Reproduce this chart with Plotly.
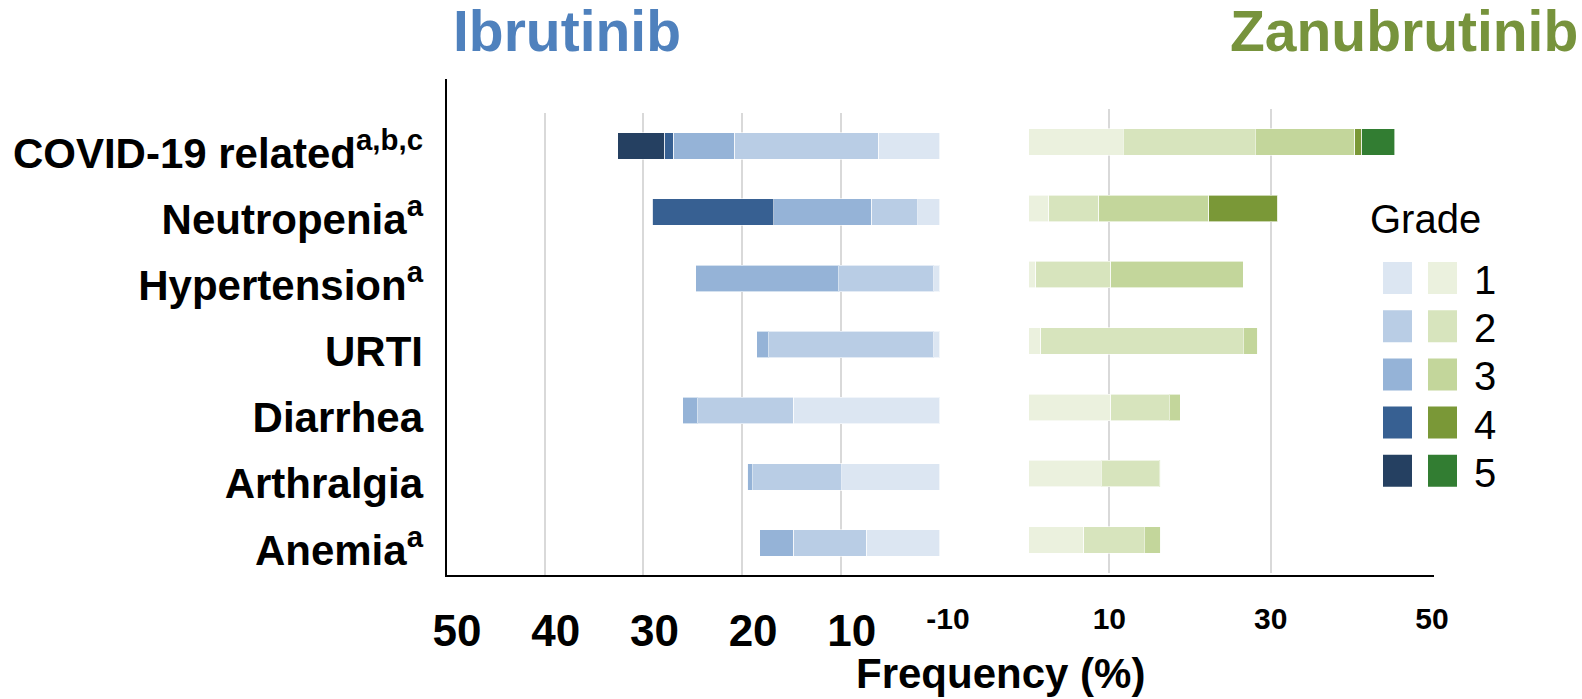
import plotly.graph_objects as go

# Adverse events (rows, top to bottom)
categories = [
    "COVID-19 related<sup>a,b,c</sup>",
    "Neutropenia<sup>a</sup>",
    "Hypertension<sup>a</sup>",
    "URTI",
    "Diarrhea",
    "Arthralgia",
    "Anemia<sup>a</sup>",
]
grades = ["1", "2", "3", "4", "5"]

# Ibrutinib frequency (%) by grade
ibru_g1 = [6.2, 2.2, 0.6, 0.6, 14.8, 9.9, 7.4]
ibru_g2 = [14.6, 4.7, 9.6, 16.7, 9.7, 9.0, 7.4]
ibru_g3 = [6.2, 9.9, 14.5, 1.2, 1.5, 0.6, 3.4]
ibru_g4 = [0.9, 12.3, 0, 0, 0, 0, 0]
ibru_g5 = [4.7, 0, 0, 0, 0, 0, 0]

# Zanubrutinib frequency (%) by grade
zanu_g1 = [11.7, 2.5, 0.9, 1.5, 10.2, 9.0, 6.8]
zanu_g2 = [16.4, 6.2, 9.3, 25.1, 7.2, 7.2, 7.5]
zanu_g3 = [12.3, 13.6, 16.4, 1.8, 1.4, 0.2, 2.1]
zanu_g4 = [0.9, 8.6, 0, 0, 0, 0, 0]
zanu_g5 = [4.1, 0, 0, 0, 0, 0, 0]

# Axis ticks
left_tickvals = [50, 40, 30, 20, 10, 0]
left_ticktext = ["50", "40", "30", "20", "10", ""]
right_tickvals = [-10, 10, 30, 50]
right_ticktext = ["-10", "10", "30", "50"]

blue_shades = ["#DCE6F2", "#B9CDE5", "#95B3D7", "#376092", "#254061"]
green_shades = ["#EBF1DE", "#D7E4BD", "#C3D69B", "#7A9837", "#327D32"]

W, H = 1582, 699


def px(x):
    return x / W


def py(y):
    return 1 - y / H


BOLD = "Liberation Sans, Arial, sans-serif"
NARROW = "Liberation Sans Narrow, Arial Narrow, Liberation Sans, sans-serif"
GRID = "#D9D9D9"

fig = go.Figure()

ibru = [ibru_g1, ibru_g2, ibru_g3, ibru_g4, ibru_g5]
zanu = [zanu_g1, zanu_g2, zanu_g3, zanu_g4, zanu_g5]
edge = dict(color="rgba(255,255,255,0.6)", width=1)

for i, vals in enumerate(ibru):
    fig.add_trace(go.Bar(
        y=categories, x=vals, orientation="h", width=0.4,
        marker=dict(color=blue_shades[i], line=edge),
        name="Ibrutinib grade " + grades[i], showlegend=False,
        xaxis="x", yaxis="y", hoverinfo="x+y",
    ))

for i, vals in enumerate(zanu):
    fig.add_trace(go.Bar(
        y=categories, x=vals, orientation="h", width=0.4,
        marker=dict(color=green_shades[i], line=edge),
        name="Zanubrutinib grade " + grades[i], showlegend=False,
        xaxis="x2", yaxis="y2", hoverinfo="x+y",
    ))

shapes = [
    # left axis line
    dict(type="line", xref="paper", yref="paper",
         x0=px(446), x1=px(446), y0=py(79), y1=py(577),
         line=dict(color="black", width=2)),
    # bottom axis line spanning both panels
    dict(type="line", xref="paper", yref="paper",
         x0=px(445), x1=px(1434), y0=py(576), y1=py(576),
         line=dict(color="black", width=2)),
    # legend background
    dict(type="rect", xref="paper", yref="paper", layer="above",
         x0=px(1345), x1=px(1520), y0=py(509), y1=py(198),
         fillcolor="white", line=dict(width=0)),
]

annotations = [
    dict(text="<b>Ibrutinib</b>", x=px(567), y=py(31), xref="paper", yref="paper",
         showarrow=False, xanchor="center", yanchor="middle",
         font=dict(family=BOLD, size=57, color="#4F81BD")),
    dict(text="<b>Zanubrutinib</b>", x=px(1404), y=py(31), xref="paper", yref="paper",
         showarrow=False, xanchor="center", yanchor="middle",
         font=dict(family=BOLD, size=57, color="#77933C")),
    dict(text="<b>Frequency (%)</b>", x=px(1000), y=py(673), xref="paper", yref="paper",
         showarrow=False, xanchor="center", yanchor="middle",
         font=dict(family=BOLD, size=42, color="black")),
    dict(text="Grade", x=px(1425), y=py(219), xref="paper", yref="paper",
         showarrow=False, xanchor="center", yanchor="middle",
         font=dict(family=BOLD, size=40, color="black")),
]

# legend: one blue and one green swatch per grade
row0, row_step = 278, 48.2
for i, g in enumerate(grades):
    cy = row0 + i * row_step
    shapes.append(dict(type="rect", xref="paper", yref="paper", layer="above",
                       x0=px(1383), x1=px(1412), y0=py(cy + 16), y1=py(cy - 16),
                       fillcolor=blue_shades[i], line=dict(width=0)))
    shapes.append(dict(type="rect", xref="paper", yref="paper", layer="above",
                       x0=px(1428), x1=px(1457), y0=py(cy + 16), y1=py(cy - 16),
                       fillcolor=green_shades[i], line=dict(width=0)))
    annotations.append(dict(text=g, x=px(1485), y=py(cy + 2), xref="paper", yref="paper",
                            showarrow=False, xanchor="center", yanchor="middle",
                            font=dict(family=BOLD, size=40, color="black")))

fig.update_layout(
    template="none",
    width=W, height=H, autosize=False,
    margin=dict(l=0, r=0, t=0, b=0, pad=0),
    paper_bgcolor="white", plot_bgcolor="white",
    barmode="stack", bargap=0.6,
    showlegend=False,
    xaxis=dict(
        domain=[px(446), px(939.5)], range=[50, 0], anchor="y", automargin=False,
        tickmode="array", tickvals=left_tickvals, ticktext=left_ticktext,
        showgrid=True, gridcolor=GRID, gridwidth=1.5,
        zeroline=False, showline=False, ticks="",
        tickfont=dict(family=NARROW, size=44, color="black", weight="bold"),
        ticklabelstandoff=25, ticklabelshift=-11,
        fixedrange=True,
    ),
    yaxis=dict(
        domain=[py(576), py(113)], anchor="x", automargin=False,
        categoryorder="array", categoryarray=categories, autorange="reversed",
        showgrid=False, zeroline=False, showline=False, ticks="",
        tickfont=dict(family=BOLD, size=42, color="black", weight="bold"),
        ticklabelstandoff=22, ticklabelshift=-7,
        fixedrange=True,
    ),
    xaxis2=dict(
        domain=[px(948), px(1432)], range=[-10, 50], anchor="y2", automargin=False,
        tickmode="array", tickvals=right_tickvals, ticktext=right_ticktext,
        showgrid=True, gridcolor=GRID, gridwidth=1.5,
        zeroline=False, showline=False, ticks="",
        tickfont=dict(family=BOLD, size=30, color="black", weight="bold"),
        ticklabelstandoff=25,
        fixedrange=True,
    ),
    yaxis2=dict(
        domain=[py(573), py(109)], anchor="x2", automargin=False,
        categoryorder="array", categoryarray=categories, autorange="reversed",
        showgrid=False, zeroline=False, showline=False, ticks="",
        showticklabels=False, fixedrange=True,
    ),
    shapes=shapes,
    annotations=annotations,
)

fig.write_html("out.html", config={"displayModeBar": False})
